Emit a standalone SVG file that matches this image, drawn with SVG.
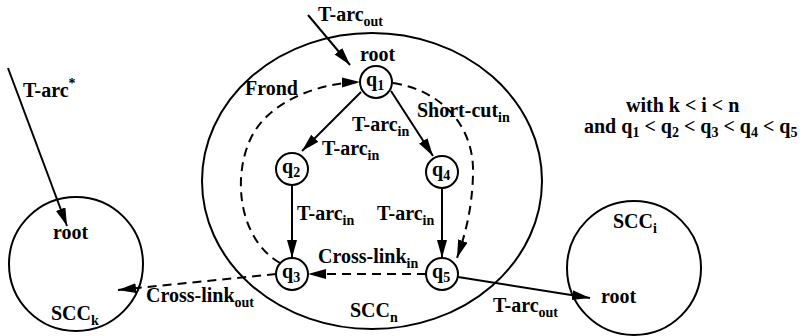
<svg xmlns="http://www.w3.org/2000/svg" width="809" height="336" viewBox="0 0 809 336">
<style>
text{font-family:"Liberation Serif","Times New Roman",serif;font-weight:bold;font-size:20px;fill:#000}
.s{font-size:14px}
.n{fill:#fff;stroke:#000;stroke-width:2}
.scc{fill:none;stroke:#000;stroke-width:2}
.e{fill:none;stroke:#000;stroke-width:2}
.d{stroke-dasharray:9 6}
</style>
<defs>
<marker id="ah" markerUnits="userSpaceOnUse" markerWidth="19" markerHeight="11" refX="18" refY="5" orient="auto" viewBox="0 0 19 11">
<path d="M0,0 L18,5 L0,10 z" fill="#000"/>
</marker>
</defs>
<g id="sccn"><ellipse class="scc" cx="372" cy="181" rx="170" ry="148"/><text x="350" y="317">SCC<tspan class="s" dy="5">n</tspan></text></g>
<g id="scck"><circle class="scc" cx="76" cy="264" r="67"/><text x="53" y="239">root</text><text x="51" y="320">SCC<tspan class="s" dy="5">k</tspan></text></g>
<g id="scci"><circle class="scc" cx="634" cy="268" r="67"/><text x="613" y="228">SCC<tspan class="s" dy="5">i</tspan></text><text x="601" y="303">root</text></g>
<g id="connectors">
<path class="e" d="M308,15 L350,65" marker-end="url(#ah)"/>
<path class="e" d="M8,68 L67,226" marker-end="url(#ah)"/>
<path class="e" d="M361,92 L302,151" marker-end="url(#ah)"/>
<path class="e" d="M391,91 L433,156" marker-end="url(#ah)"/>
<path class="e" d="M292,185 L292,258" marker-end="url(#ah)"/>
<path class="e" d="M442,188 L442,258" marker-end="url(#ah)"/>
<path class="e" d="M458,277 L590,298" marker-end="url(#ah)"/>
<path class="e d" d="M280,263 C240,240 232,180 250,140 C268,100 320,83 360,82" marker-end="url(#ah)"/>
<path class="e d" d="M393,83 C440,90 475,125 473,175 C472,210 465,235 457,258" marker-end="url(#ah)"/>
<path class="e d" d="M426,274 L308,274" marker-end="url(#ah)"/>
<path class="e d" d="M276,274 L118,290" marker-end="url(#ah)"/>
</g>
<g id="q1"><circle class="n" cx="376" cy="82" r="16"/><text x="366" y="86">q<tspan class="s" dy="4">1</tspan></text><text x="360" y="61">root</text></g>
<g id="q2"><circle class="n" cx="292" cy="169" r="16"/><text x="282" y="173">q<tspan class="s" dy="4">2</tspan></text></g>
<g id="q3"><circle class="n" cx="292" cy="274" r="16"/><text x="282" y="278">q<tspan class="s" dy="4">3</tspan></text></g>
<g id="q4"><circle class="n" cx="442" cy="172" r="16"/><text x="432" y="176">q<tspan class="s" dy="4">4</tspan></text></g>
<g id="q5"><circle class="n" cx="442" cy="274" r="16"/><text x="432" y="278">q<tspan class="s" dy="4">5</tspan></text></g>
<g id="labels">
<text x="318" y="21">T-arc<tspan class="s" dy="5">out</tspan></text>
<text x="23" y="97">T-arc<tspan class="s" dy="-9">*</tspan></text>
<text x="245" y="95">Frond</text>
<text x="417" y="117">Short-cut<tspan class="s" dy="5">in</tspan></text>
<text x="352" y="131">T-arc<tspan class="s" dy="5">in</tspan></text>
<text x="322" y="155">T-arc<tspan class="s" dy="5">in</tspan></text>
<text x="297" y="220">T-arc<tspan class="s" dy="5">in</tspan></text>
<text x="377" y="220">T-arc<tspan class="s" dy="5">in</tspan></text>
<text x="318" y="263">Cross-link<tspan class="s" dy="5">in</tspan></text>
<text x="146" y="302">Cross-link<tspan class="s" dy="5">out</tspan></text>
<text x="493" y="312">T-arc<tspan class="s" dy="5">out</tspan></text>
<text x="626" y="112">with k &lt; i &lt; n</text>
<text x="584" y="133">and q<tspan class="s" dy="4">1</tspan><tspan dy="-4"> &lt; q</tspan><tspan class="s" dy="4">2</tspan><tspan dy="-4"> &lt; q</tspan><tspan class="s" dy="4">3</tspan><tspan dy="-4"> &lt; q</tspan><tspan class="s" dy="4">4</tspan><tspan dy="-4"> &lt; q</tspan><tspan class="s" dy="4">5</tspan></text>
</g>
</svg>
